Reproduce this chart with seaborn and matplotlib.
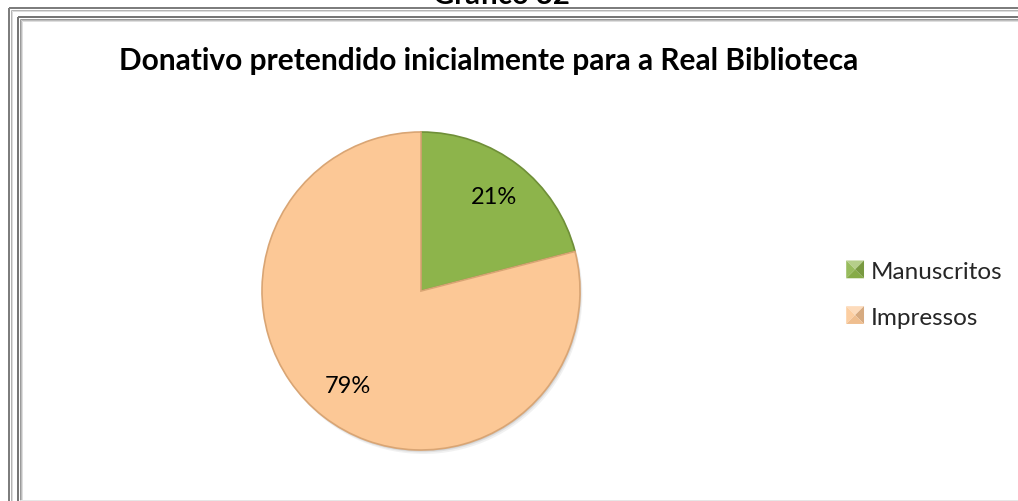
import matplotlib
matplotlib.use("Agg")
import matplotlib.pyplot as plt
import seaborn as sns
from matplotlib.lines import Line2D
from matplotlib.patches import Polygon, Wedge, Circle
from matplotlib.legend_handler import HandlerBase
from matplotlib.colors import to_rgb

# Data
categories = ["Manuscritos", "Impressos"]
shares = [21, 79]
colors = ["#8DB44B", "#FCC896"]
edge_colors = ["#6F8F38", "#D9A574"]

title = "Donativo pretendido inicialmente para a Real Biblioteca"
caption = "Gráfico 32"

sns.set_theme(style="white")
plt.rcParams['font.family'] = ['Lato', 'DejaVu Sans']

W, H = 1018, 502
fig = plt.figure(figsize=(W / 100, H / 100), dpi=100)
fig.patch.set_facecolor("white")


def fx(px):
    return px / W


def fy(py):
    return 1 - py / H


def px2pt(px):
    return px * 72 / 100


# Double picture frame (top and left edges)
def frame_line(offset, color, width_px):
    fig.add_artist(Line2D([fx(offset), fx(offset)], [fy(offset), 0], color=color,
                          lw=px2pt(width_px), transform=fig.transFigure, solid_capstyle="butt"))
    fig.add_artist(Line2D([fx(offset), 1], [fy(offset), fy(offset)], color=color,
                          lw=px2pt(width_px), transform=fig.transFigure, solid_capstyle="butt"))


frame_line(9.0, "#7d7d7d", 2)
frame_line(10.5, "#b5b5b5", 1)
frame_line(11.5, "#dcdcdc", 1)
frame_line(18.0, "#767676", 2)
frame_line(19.5, "#9a9a9a", 1)
frame_line(20.5, "#bdbdbd", 1)
frame_line(21.5, "#dedede", 1)
fig.add_artist(Line2D([fx(20), 1], [fy(501), fy(501)], color="#e6e6e6", lw=px2pt(1),
                      transform=fig.transFigure))

# Caption above the frame
fig.text(fx(501), fy(4), caption, ha="center", va="baseline", fontsize=21,
         fontweight="bold", color="black")

# Chart title
fig.text(fx(489), fy(61), title, ha="center", va="center", fontsize=21.5,
         fontweight="bold", color="black")

# Pie
cx, cy, r = 421, 292, 159
lim = 1.03
half = r * lim
ax = fig.add_axes([fx(cx - half), fy(cy + half), 2 * half / W, 2 * half / H])
# soft shadow under the pie
for k, a in [(0.025, 0.10), (0.015, 0.14), (0.008, 0.18)]:
    ax.add_patch(Circle((k * 0.6, -k), 1.0, facecolor="#7a7a7a", alpha=a,
                        edgecolor="none", zorder=0))
wedges, texts, autotexts = ax.pie(
    shares, colors=colors, startangle=90, counterclock=False,
    autopct="%1.0f%%", pctdistance=0.75,
    wedgeprops=dict(linewidth=1.2, zorder=2),
    textprops=dict(fontsize=17, color="black"),
)
for w, ec in zip(wedges, edge_colors):
    w.set_edgecolor(ec)
for t in autotexts:
    t.set_zorder(3)
ax.set_xlim(-lim, lim)
ax.set_ylim(-lim, lim)
ax.set_aspect("equal")
ax.axis("off")


# Legend keys drawn as bevelled squares
class HandlerPyramid(HandlerBase):
    def create_artists(self, legend, orig_handle, xdescent, ydescent, width, height,
                       fontsize, trans):
        s = min(width, height)
        x0 = -xdescent + (width - s) / 2
        y0 = -ydescent + (height - s) / 2
        c = (x0 + s / 2, y0 + s / 2)
        base = to_rgb(orig_handle.get_facecolor())

        def shade(f):
            if f >= 0:
                return tuple(b + (1 - b) * f for b in base)
            return tuple(b * (1 + f) for b in base)

        tl, tr = (x0, y0 + s), (x0 + s, y0 + s)
        bl, br = (x0, y0), (x0 + s, y0)
        tris = [
            ([tl, tr, c], shade(0.35)),
            ([bl, tl, c], shade(0.1)),
            ([tr, br, c], shade(-0.15)),
            ([bl, br, c], shade(-0.05)),
        ]
        arts = []
        for pts, col in tris:
            p = Polygon(pts, closed=True, facecolor=col, edgecolor="none", transform=trans)
            arts.append(p)
        return arts


fig.legend(
    handles=wedges, labels=categories,
    loc="center left", bbox_to_anchor=(fx(846), fy(295)),
    frameon=False, fontsize=17.5,
    handler_map={Wedge: HandlerPyramid()},
    handlelength=0.75, handleheight=0.75, labelspacing=1.0, handletextpad=0.25,
    borderaxespad=0, borderpad=0,
)

fig.savefig("out.png", dpi=100, facecolor="white")
